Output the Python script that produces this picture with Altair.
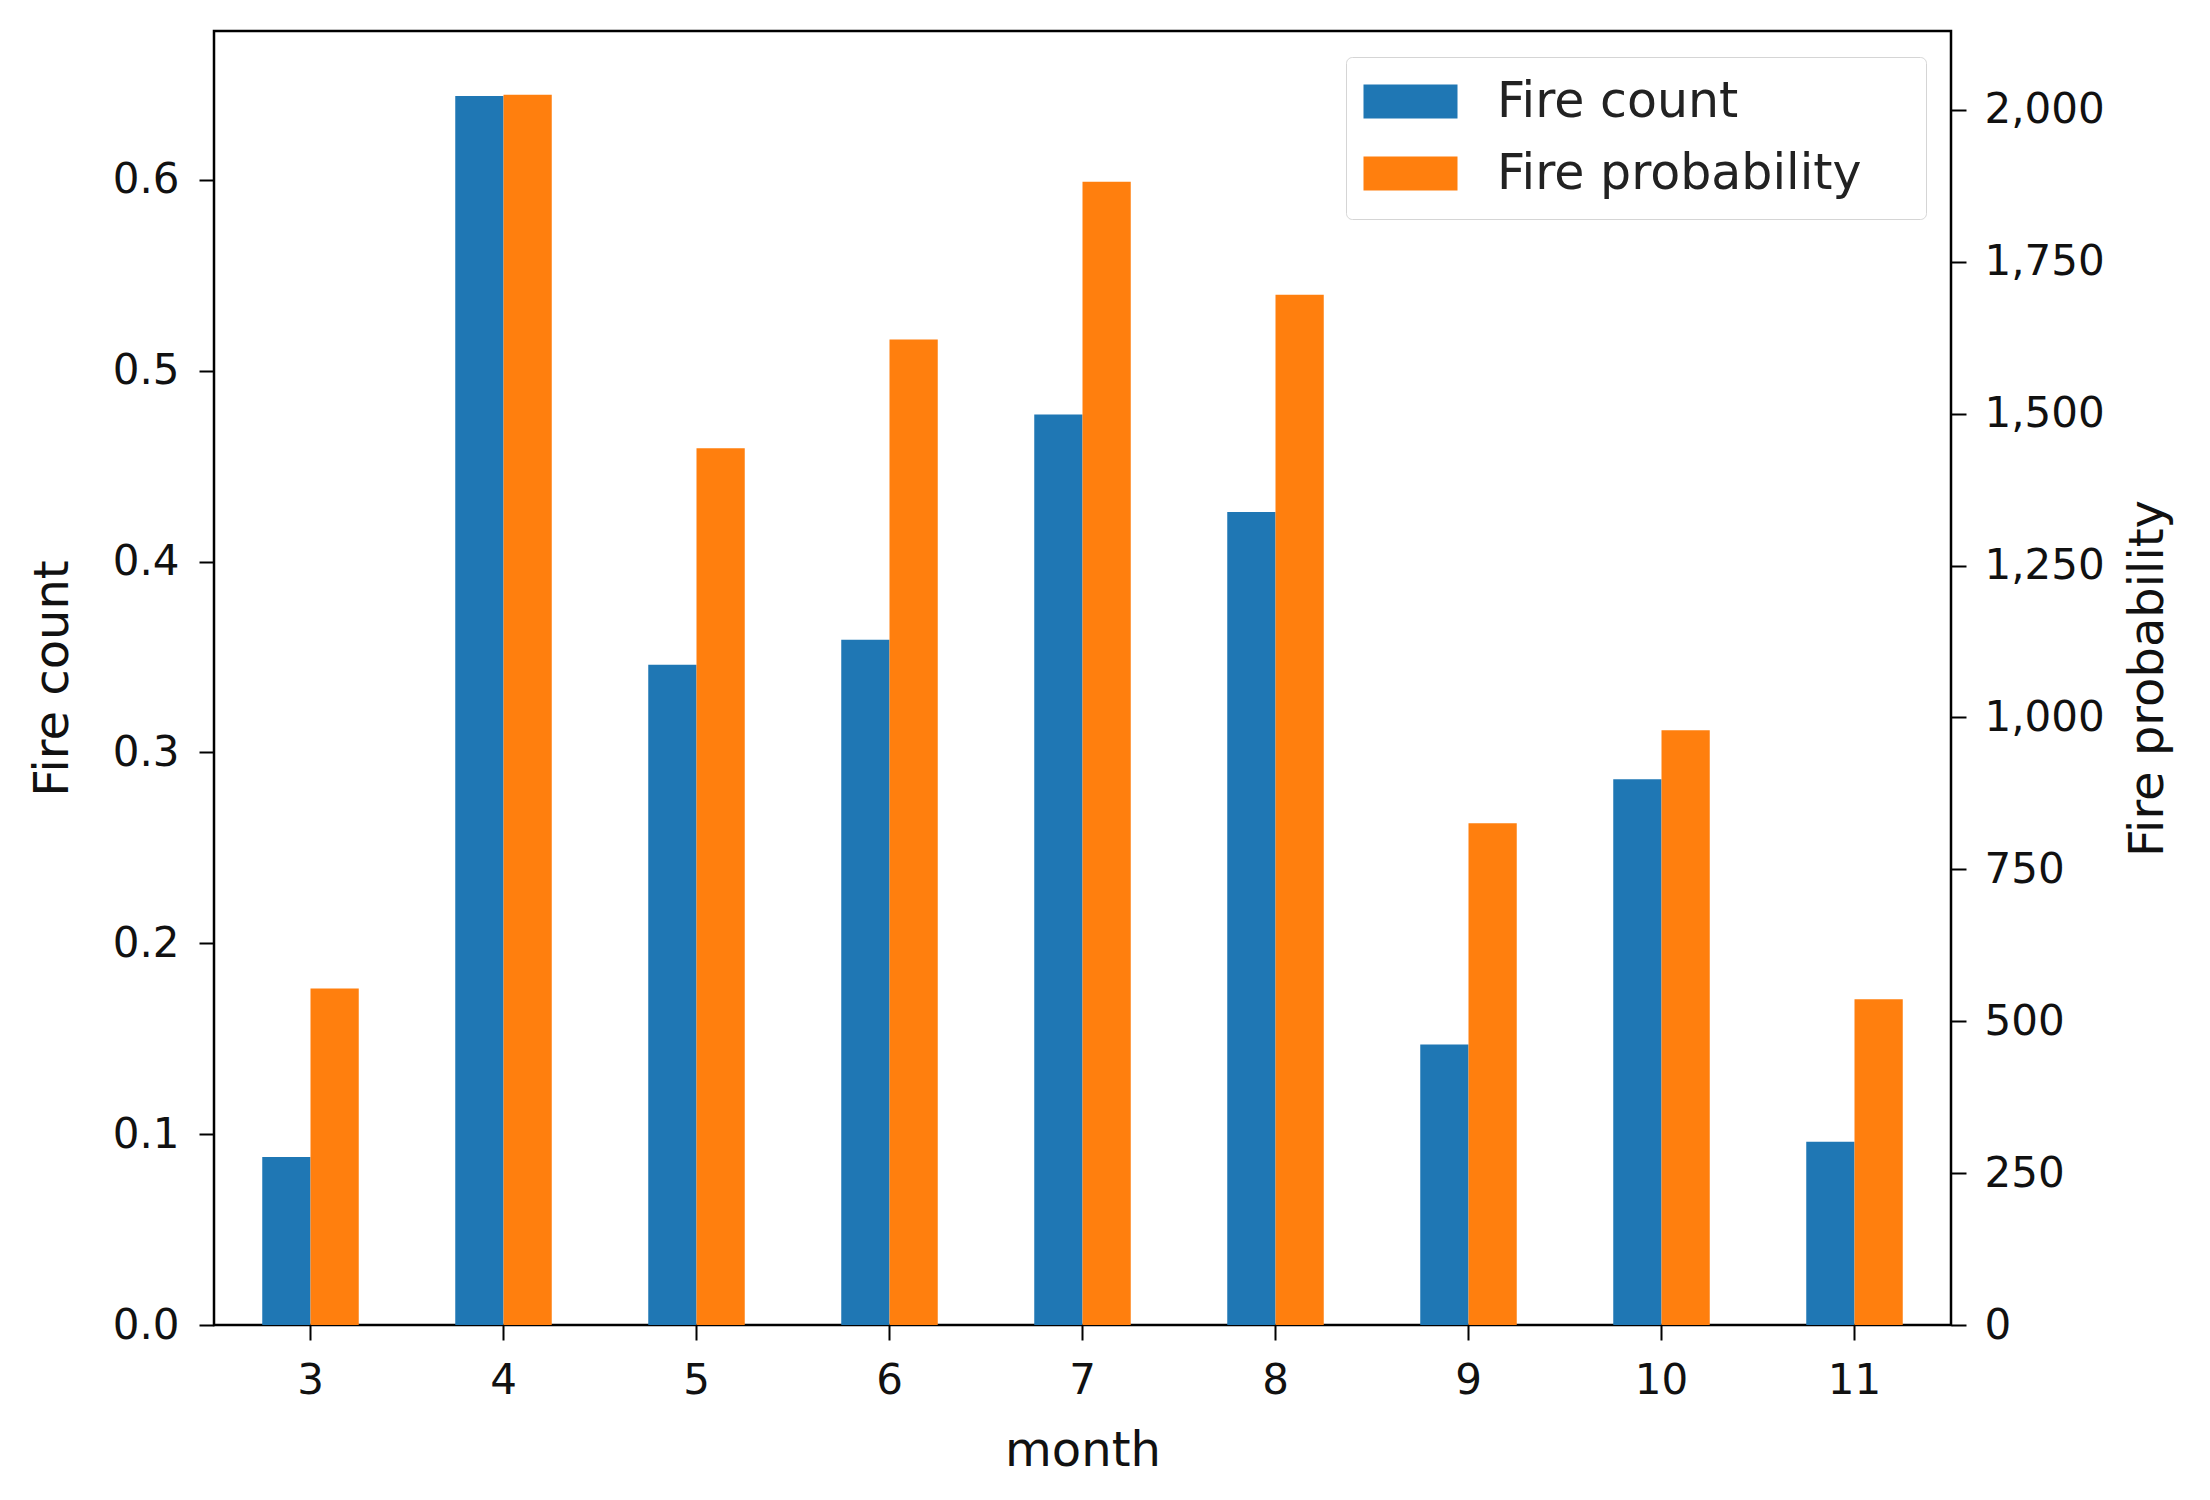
import altair as alt
import pandas as pd

months = [3, 4, 5, 6, 7, 8, 9, 10, 11]
fire_count = [0.088, 0.644, 0.346, 0.359, 0.477, 0.426, 0.147, 0.286, 0.096]
fire_prob = [554, 2025, 1443, 1622, 1882, 1696, 826, 979, 536]

series_names = ["Fire count", "Fire probability"]
colors = ["#1f77b4", "#ff7f0e"]

df = pd.DataFrame({"month": months, "count": fire_count, "prob": fire_prob})

FONT = "DejaVu Sans"

x_enc = alt.X(
    "month:O",
    scale=alt.Scale(paddingInner=0.5, paddingOuter=0.25),
    axis=alt.Axis(title="month", labelAngle=0, labelPadding=20, titlePadding=26),
)
xoff = alt.XOffset("series:N", scale=alt.Scale(domain=series_names, paddingInner=0, paddingOuter=0))
color = alt.Color(
    "series:N",
    scale=alt.Scale(domain=series_names, range=colors),
    legend=alt.Legend(
        title="x",
        titleOrient="right",
        titleOpacity=0,
        titleFontSize=20,
        titlePadding=33,
        orient="none",
        legendX=1132,
        legendY=26,
        symbolType="M-2.765,-1H2.765V1H-2.765Z",
        symbolSize=1156,
        symbolOffset=20,
        symbolStrokeWidth=0,
        symbolOpacity=1,
        labelFontSize=49,
        labelFont=FONT,
        labelColor="#222222",
        labelOffset=62,
        rowPadding=22,
        padding=20,
        fillColor="white",
        strokeColor="#d5d5d5",
        cornerRadius=6,
        labelLimit=1000,
    ),
)

left = (
    alt.Chart(df)
    .transform_calculate(series="'Fire count'")
    .mark_bar()
    .encode(
        x=x_enc,
        xOffset=xoff,
        y=alt.Y(
            "count:Q",
            scale=alt.Scale(domain=[0, 0.678], nice=False),
            axis=alt.Axis(
                title="Fire count",
                values=[0, 0.1, 0.2, 0.3, 0.4, 0.5, 0.6],
                format=".1f",
                orient="left",
                labelPadding=20,
                titlePadding=35,
            ),
        ),
        color=color,
    )
)

right = (
    alt.Chart(df)
    .transform_calculate(series="'Fire probability'")
    .mark_bar()
    .encode(
        x=x_enc,
        xOffset=xoff,
        y=alt.Y(
            "prob:Q",
            scale=alt.Scale(domain=[0, 2130], nice=False),
            axis=alt.Axis(
                title="Fire probability",
                values=[0, 250, 500, 750, 1000, 1250, 1500, 1750, 2000],
                format=",.0f",
                orient="right",
                labelPadding=18,
                titlePadding=20,
                titleAngle=270,
                titleBaseline="top",
            ),
        ),
        color=color,
    )
)

chart = (
    alt.layer(left, right)
    .resolve_scale(y="independent")
    .properties(
        width=1737,
        height=1294,
        autosize=alt.AutoSizeParams(type="none"),
        padding={"left": 206, "top": 23, "right": 240, "bottom": 150},
    )
    .configure_view(stroke="black", strokeWidth=2.5)
    .configure_axis(
        domain=False,
        grid=False,
        ticks=True,
        tickColor="black",
        tickWidth=2,
        tickSize=15,
        labelFont=FONT,
        labelFontSize=42,
        labelColor="#111111",
        titleFont=FONT,
        titleFontSize=48,
        titleFontWeight="normal",
        titleColor="#111111",
    )
)

chart.save("out.html", embed_options={"renderer": "svg", "actions": False})
